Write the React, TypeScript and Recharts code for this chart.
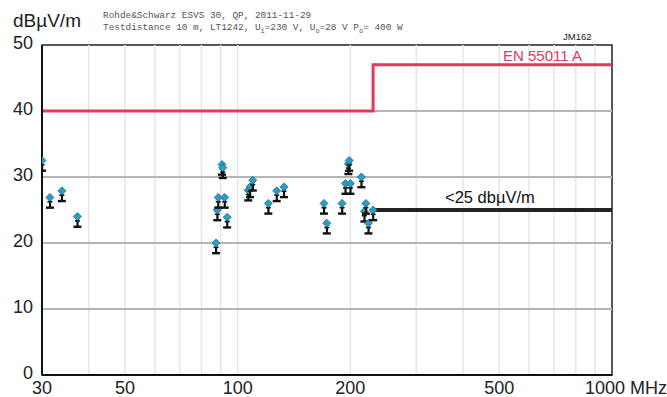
import {
  ComposedChart,
  Line,
  ReferenceArea,
  ReferenceLine,
  Scatter,
  XAxis,
  YAxis,
} from "recharts";

// measured emission peaks (QP), MHz / dBµV/m
const freqs = [
  30, 31.5, 33.9, 37.3, 87.5, 88.2, 88.7, 90.8, 91.2, 92.3, 93.7, 106.7, 107.9,
  109.7, 120.7, 127.1, 132.9, 170, 173, 190, 194, 197.5, 198.5, 200, 214, 218,
  220, 223.5, 230,
];
const levels = [
  32.5, 26.9, 27.9, 24.0, 20.0, 25.0, 26.9, 31.9, 31.4, 26.9, 23.9, 28.0, 28.5,
  29.5, 26.0, 27.9, 28.5, 26.0, 23.0, 26.0, 29.0, 32.0, 32.5, 29.0, 30.0, 24.8,
  26.0, 23.0, 25.0,
];

// EN 55011 class A limit
const limitFreqs = [30, 230, 230, 1000];
const limitLevels = [40, 40, 47, 47];

// internal target line
const targetFreqs = [230, 1000];
const targetLevels = [25, 25];

const xTicks = [30, 50, 100, 200, 500, 1000];
const yTicks = [0, 10, 20, 30, 40, 50];
const gridFreqs = [40, 50, 60, 70, 80, 90, 100, 200, 300, 400, 500, 600, 700, 800, 900];
const gridLevels = [10, 20, 30, 40];

const points = freqs.map((f, i) => ({ f, v: levels[i] }));
const limit = limitFreqs.map((f, i) => ({ f, v: limitLevels[i] }));
const target = targetFreqs.map((f, i) => ({ f, v: targetLevels[i] }));

const FONT = "'Liberation Sans', Arial, sans-serif";

const Pin = (props: any) => {
  const { cx, cy } = props;
  if (cx == null || cy == null) return null;
  return (
    <g>
      <rect x={cx - 1} y={cy + 2} width={2.2} height={8} fill="#111" />
      <rect x={cx - 2.5} y={cy + 3.5} width={5} height={1.6} fill="#111" />
      <rect x={cx - 4} y={cy + 9} width={8} height={2.4} fill="#111" />
      <path
        d={`M${cx},${cy - 4} L${cx + 4},${cy} L${cx},${cy + 4} L${cx - 4},${cy} Z`}
        fill="#2a9fc6"
        stroke="#15698a"
        strokeWidth={0.8}
      />
    </g>
  );
};

const XTick = (props: any) => {
  const { x, y, payload } = props;
  const last = payload.value === 1000;
  return (
    <text
      x={last ? x - 27 : x}
      y={y}
      dy="0.71em"
      textAnchor={last ? "start" : "middle"}
      fontSize={18}
      fontFamily={FONT}
      fill="#222"
    >
      {last ? "1000 MHz" : payload.value}
    </text>
  );
};

const mono = "'Liberation Mono', 'DejaVu Sans Mono', monospace";

const App = () => (
  <div
    style={{
      position: "absolute",
      left: 0,
      top: 0,
      width: 667,
      height: 397,
      background: "#fff",
      fontFamily: FONT,
    }}
  >
    <ComposedChart
      width={667}
      height={397}
      margin={{ top: 45, right: 55, bottom: 0, left: 0 }}
    >
      <XAxis
        dataKey="f"
        type="number"
        scale="log"
        domain={[30, 1000]}
        ticks={xTicks}
        allowDataOverflow
        height={22}
        tickLine={false}
        tickSize={0}
        tickMargin={6}
        tick={<XTick />}
        axisLine={{ stroke: "#111", strokeWidth: 2 }}
      />
      <YAxis
        dataKey="v"
        type="number"
        domain={[0, 50]}
        ticks={yTicks}
        width={42}
        tickLine={false}
        tickSize={0}
        tickMargin={9}
        tick={{ fontSize: 18, fill: "#222", fontFamily: FONT, dy: -2 }}
        axisLine={{ stroke: "#111", strokeWidth: 2 }}
      />
      {gridFreqs.map((f) => (
        <ReferenceLine key={"gx" + f} x={f} stroke="#e6e6e6" strokeWidth={1.5} />
      ))}
      {gridLevels.map((v) => (
        <ReferenceLine key={"gy" + v} y={v} stroke="#b5b5b5" strokeWidth={2} />
      ))}
      <ReferenceArea
        x1={30}
        x2={1000}
        y1={0}
        y2={50}
        fill="none"
        stroke="#222"
        strokeWidth={1.5}
      />
      <Line
        data={limit}
        dataKey="v"
        type="linear"
        stroke="#e03a5c"
        strokeWidth={3}
        dot={false}
        isAnimationActive={false}
      />
      <Line
        data={target}
        dataKey="v"
        type="linear"
        stroke="#222"
        strokeWidth={4}
        dot={false}
        isAnimationActive={false}
      />
      <Scatter data={points} dataKey="v" shape={<Pin />} isAnimationActive={false} />
    </ComposedChart>

    <span style={{ position: "absolute", left: 13, top: 11, fontSize: 19, lineHeight: 1, color: "#222" }}>
      dBµV/m
    </span>
    <div
      style={{
        position: "absolute",
        left: 103,
        top: 10,
        fontFamily: mono,
        fontSize: 9.4,
        lineHeight: "12px",
        color: "#555",
        whiteSpace: "pre",
      }}
    >
      <div>Rohde&amp;Schwarz ESVS 30, QP, 2011-11-29</div>
      <div>
        Testdistance 10 m, LT1242, U<sub style={{ fontSize: 7 }}>i</sub>=230 V, U
        <sub style={{ fontSize: 7 }}>o</sub>=28 V P<sub style={{ fontSize: 7 }}>o</sub>= 400 W
      </div>
    </div>
    <span style={{ position: "absolute", left: 563, top: 32, fontSize: 9.5, lineHeight: 1, color: "#222" }}>
      JM162
    </span>
    <span style={{ position: "absolute", left: 503, top: 48, fontSize: 15, lineHeight: 1, color: "#e03a5c" }}>
      EN 55011 A
    </span>
    <span style={{ position: "absolute", left: 445, top: 189, fontSize: 16.5, lineHeight: 1, color: "#111" }}>
      &lt;25 dbµV/m
    </span>
  </div>
);

export default App;
